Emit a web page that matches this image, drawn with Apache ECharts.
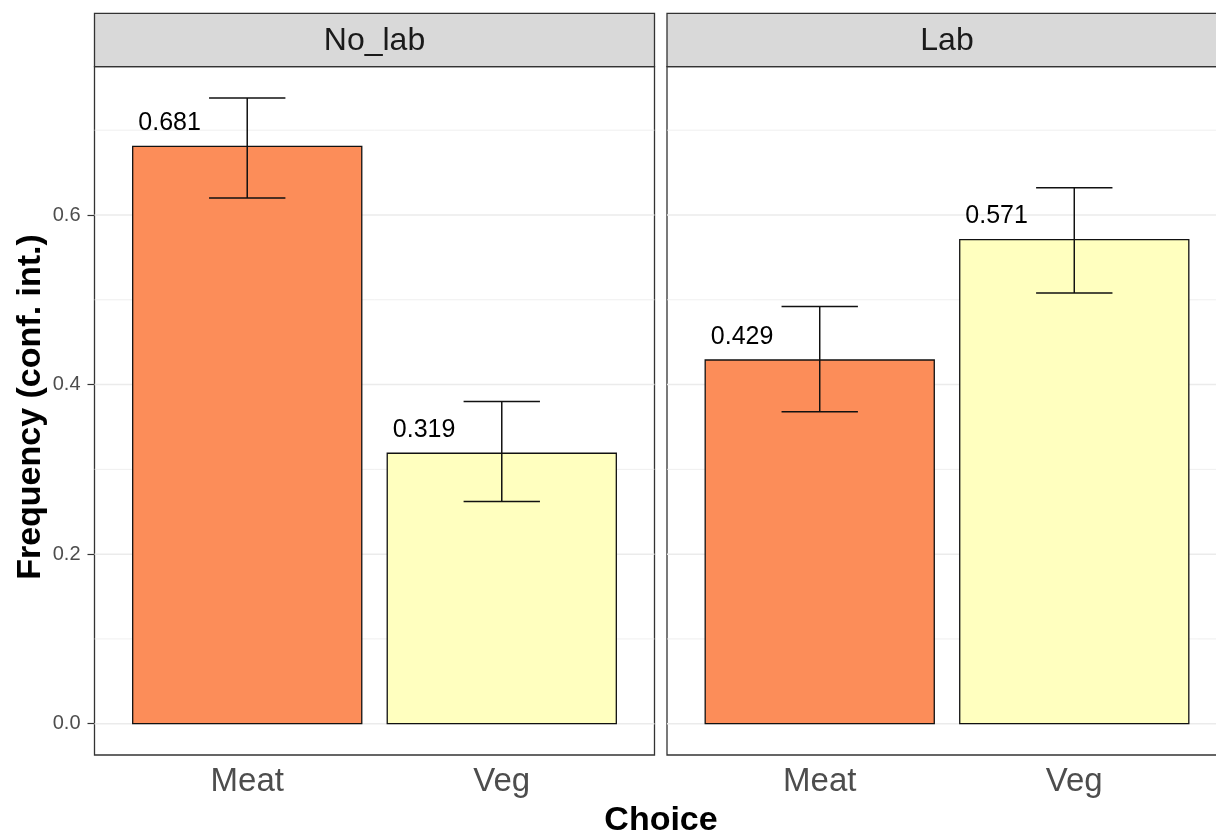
<!DOCTYPE html>
<html>
<head>
<meta charset="utf-8">
<script src="https://cdn.jsdelivr.net/npm/echarts@6/dist/echarts.min.js"></script>
<style>
  html, body { margin: 0; padding: 0; background: #ffffff; }
  #chart { width: 1216px; height: 834px; }
</style>
</head>
<body>
<div id="chart"></div>
<script>
// Facets and categories
const panels = ['No_lab', 'Lab'];
const choices = ['Meat', 'Veg'];

// Frequencies with confidence intervals, per facet (Meat, Veg)
const freqNoLab = [0.681, 0.319];
const lowerNoLab = [0.620, 0.262];
const upperNoLab = [0.738, 0.380];

const freqLab = [0.429, 0.571];
const lowerLab = [0.368, 0.508];
const upperLab = [0.492, 0.632];

// Y axis tick labels and grid lines
const yTicks = [0, 0.2, 0.4, 0.6];
const yMinor = [0.1, 0.3, 0.5, 0.7];

const FONT = '"Liberation Sans", Arial, Helvetica, sans-serif';
const fills = ['#fc8d59', '#ffffbf'];

// y range with 5% padding around [0, highest upper bound]
const yHi = Math.max(...upperNoLab, ...upperLab);
const yPad = yHi * 0.05;
const yMin = -yPad, yMax = yHi + yPad;

// panel geometry (the second panel runs past the right edge)
const panelTop = 66.7, panelH = 688.3, panelW = 560;
const panelLefts = [94.5, 667];
const stripTop = 13.3;

function rows(freq, lo, hi) {
  return choices.map((c, i) => [i + 1, freq[i], lo[i], hi[i]]);
}
const panelData = [rows(freqNoLab, lowerNoLab, upperNoLab), rows(freqLab, lowerLab, upperLab)];

function renderBar(params, api) {
  const x = api.value(0), v = api.value(1), lo = api.value(2), hi = api.value(3);
  const base = api.coord([x, 0]);
  const top = api.coord([x, v]);
  const pLo = api.coord([x, lo]);
  const pHi = api.coord([x, hi]);
  const unit = api.size([1, 0])[0];
  const barW = unit * 0.9, capW = unit * 0.3;
  const ink = '#111111';
  return {
    type: 'group',
    children: [
      { type: 'rect',
        shape: { x: base[0] - barW / 2, y: top[1], width: barW, height: base[1] - top[1] },
        style: { fill: fills[x - 1], stroke: ink, lineWidth: 1.3 } },
      { type: 'line', shape: { x1: pLo[0], y1: pLo[1], x2: pHi[0], y2: pHi[1] },
        style: { stroke: ink, lineWidth: 1.5 } },
      { type: 'line', shape: { x1: pLo[0] - capW / 2, y1: pLo[1], x2: pLo[0] + capW / 2, y2: pLo[1] },
        style: { stroke: ink, lineWidth: 1.5 } },
      { type: 'line', shape: { x1: pHi[0] - capW / 2, y1: pHi[1], x2: pHi[0] + capW / 2, y2: pHi[1] },
        style: { stroke: ink, lineWidth: 1.5 } },
      { type: 'text', x: top[0] - unit * 0.305, y: top[1] - 23,
        style: { text: v.toFixed(3), fill: '#000000', font: '25px ' + FONT,
                 align: 'center', verticalAlign: 'middle' } }
    ]
  };
}

function renderGridLine(params, api) {
  const v = api.value(0), major = api.value(1);
  const cs = params.coordSys;
  const y = api.coord([1, v])[1];
  return {
    type: 'line',
    shape: { x1: cs.x, y1: y, x2: cs.x + cs.width, y2: y },
    style: { stroke: '#ebebeb', lineWidth: major ? 1.5 : 0.8 }
  };
}

const gridLineData = yTicks.map(v => [v, 1]).concat(yMinor.map(v => [v, 0]));

const grids = [], xAxes = [], yAxes = [], series = [], graphics = [];

panels.forEach((name, p) => {
  grids.push({
    left: panelLefts[p], top: panelTop, width: panelW, height: panelH,
    outerBoundsMode: 'none', containLabel: false,
    show: true, borderColor: '#333333', borderWidth: 1.3, backgroundColor: '#ffffff'
  });
  xAxes.push({
    type: 'value', gridIndex: p, min: 0.4, max: 2.6,
    axisLine: { show: false }, axisTick: { show: false }, splitLine: { show: false },
    axisLabel: {
      customValues: [1, 2],
      formatter: v => choices[Math.round(v) - 1],
      color: '#4d4d4d', fontSize: 33, fontFamily: FONT, margin: 10
    }
  });
  yAxes.push({
    type: 'value', gridIndex: p, min: yMin, max: yMax,
    axisLine: { show: false }, splitLine: { show: false },
    axisTick: p === 0
      ? { show: true, customValues: yTicks, length: 7, lineStyle: { color: '#333333', width: 1.2 } }
      : { show: false },
    axisLabel: p === 0
      ? { show: true, customValues: yTicks, formatter: v => v.toFixed(1),
          color: '#4d4d4d', fontSize: 20, fontFamily: FONT, margin: 14 }
      : { show: false }
  });
  series.push({
    type: 'custom', xAxisIndex: p, yAxisIndex: p, z: 1, silent: true,
    renderItem: renderGridLine, data: gridLineData
  });
  series.push({
    type: 'custom', xAxisIndex: p, yAxisIndex: p, z: 3, silent: true,
    renderItem: renderBar, data: panelData[p], clip: false
  });
  // facet strip
  graphics.push({
    type: 'rect', z: 10,
    shape: { x: panelLefts[p], y: stripTop, width: panelW, height: panelTop - stripTop },
    style: { fill: '#d9d9d9', stroke: '#333333', lineWidth: 1.3 }
  });
  graphics.push({
    type: 'text', z: 11, x: panelLefts[p] + panelW / 2, y: (stripTop + panelTop) / 2 + 1,
    style: { text: name, fill: '#1a1a1a', font: '32px ' + FONT, align: 'center', verticalAlign: 'middle' }
  });
});

// axis titles
graphics.push({
  type: 'text', z: 11, x: 661, y: 821,
  style: { text: 'Choice', fill: '#000000', font: 'bold 34px ' + FONT, align: 'center', verticalAlign: 'middle' }
});
graphics.push({
  type: 'text', z: 11, x: 31, y: 407, rotation: Math.PI / 2,
  style: { text: 'Frequency (conf. int.)', fill: '#000000', font: 'bold 34px ' + FONT,
           align: 'center', verticalAlign: 'middle' }
});

const chart = echarts.init(document.getElementById('chart'), null, { renderer: 'canvas' });
chart.setOption({
  animation: false,
  backgroundColor: '#ffffff',
  grid: grids,
  xAxis: xAxes,
  yAxis: yAxes,
  series: series,
  graphic: graphics
});
</script>
</body>
</html>
